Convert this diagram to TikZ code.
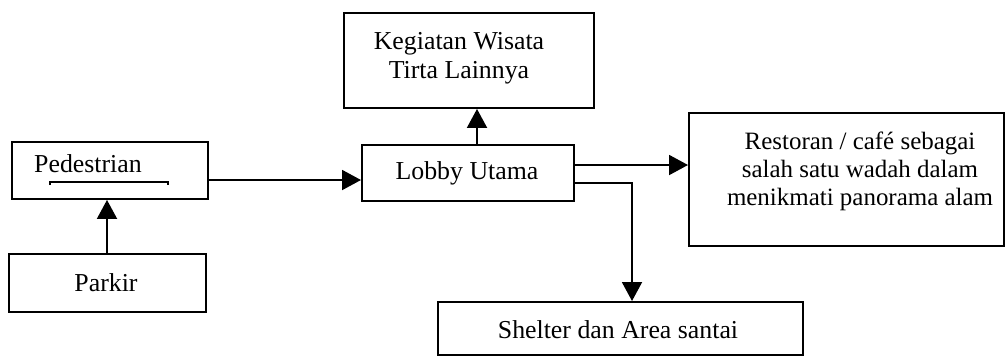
\documentclass[tikz,border=0pt]{standalone}
\usepackage{fontspec}
\setmainfont{Liberation Serif}
\usetikzlibrary{arrows.meta,calc}
\begin{document}
\begin{tikzpicture}[x=0.02cm,y=-0.02cm,
  box/.style={draw,line width=1.1pt,inner sep=0pt,anchor=north west},
  txt/.style={inner sep=0pt,align=center,font=\fontsize{14.7}{16.8}\selectfont},
  arr/.style={line width=1.1pt,-{Triangle[length=0.38cm,width=0.4cm]}},
  link/.style={line width=1.1pt}]
\useasboundingbox (0,0) rectangle (1006,356);
% boxes (top-left corner, size in px units)
\node[box,minimum width=196*0.02cm,minimum height=57*0.02cm] (ped) at (11,141) {};
\node[box,minimum width=197*0.02cm,minimum height=58*0.02cm] (park) at (8,253) {};
\node[box,minimum width=212*0.02cm,minimum height=56*0.02cm] (lobby) at (361,144) {};
\node[box,minimum width=250*0.02cm,minimum height=95*0.02cm] (keg) at (343,12) {};
\node[box,minimum width=315*0.02cm,minimum height=133*0.02cm] (rest) at (688,112) {};
\node[box,minimum width=365*0.02cm,minimum height=53*0.02cm] (shel) at (437,301) {};
% labels
\node[txt] (pedT) at (88,164) {Pedestrian};
\draw[line width=0.6pt] (50,185) -- (50,182) -- (168,182) -- (168,185);
\node[txt] (parkT) at (106,283) {Parkir};
\node[txt] (lobbyT) at (467,173) {Lobby Utama};
\node[txt] (kegT) at (459,58) {Kegiatan Wisata\\Tirta Lainnya};
\node[txt,font=\fontsize{14.2}{16}\selectfont] (restT) at (860,171) {Restoran / café sebagai\\salah satu wadah dalam\\menikmati panorama alam};
\node[txt] (shelT) at (618,330) {Shelter dan Area santai};
% connector guide points
\coordinate (xPark) at (107,0);
\coordinate (yPed) at (0,180);
\coordinate (xKeg) at (477,0);
\coordinate (yRest) at (0,165);
\coordinate (yShel) at (0,183);
\coordinate (bend) at (632,183);
% connectors
\draw[arr] (park.north -| xPark) -- (ped.south -| xPark);
\draw[arr] (ped.east |- yPed) -- (lobby.west |- yPed);
\draw[arr] (lobby.north -| xKeg) -- (keg.south -| xKeg);
\draw[arr] (lobby.east |- yRest) -- (rest.west |- yRest);
\draw[arr] (lobby.east |- yShel) -- (bend) -- (shel.north -| bend);
\end{tikzpicture}
\end{document}
